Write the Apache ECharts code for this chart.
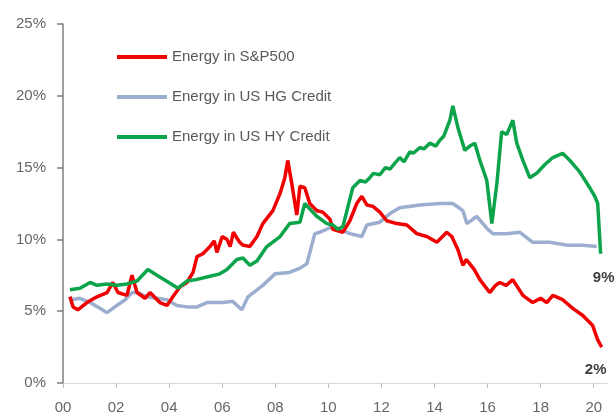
<!DOCTYPE html>
<html>
<head>
<meta charset="utf-8">
<script src="https://cdn.jsdelivr.net/npm/echarts@6/dist/echarts.min.js"></script>
<style>
  html, body { margin: 0; padding: 0; background: #fff; }
  #chart { width: 616px; height: 417px; }
</style>
</head>
<body>
<div id="chart"></div>
<script>
// Energy weight in S&P500 vs US HG / HY credit indices (%)
const yTicks = [0, 5, 10, 15, 20, 25];
const xTicks = [2000, 2002, 2004, 2006, 2008, 2010, 2012, 2014, 2016, 2018, 2020];
const endLabels = { spx: "2%", hy: "9%" };

const spxX = [2000.26, 2000.38, 2000.56, 2000.90, 2001.28, 2001.66, 2001.88, 2002.07, 2002.41, 2002.60,
  2002.79, 2003.09, 2003.28, 2003.65, 2003.92, 2004.14, 2004.41, 2004.67, 2004.90, 2005.05,
  2005.27, 2005.54, 2005.70, 2005.80, 2006.00, 2006.18, 2006.30, 2006.42, 2006.55, 2006.66,
  2006.78, 2007.04, 2007.31, 2007.53, 2007.91, 2008.18, 2008.36, 2008.47, 2008.62, 2008.81,
  2008.93, 2009.11, 2009.30, 2009.57, 2009.79, 2010.06, 2010.17, 2010.55, 2010.81, 2011.07,
  2011.26, 2011.45, 2011.68, 2011.94, 2012.20, 2012.58, 2012.96, 2013.33, 2013.71, 2014.09,
  2014.46, 2014.65, 2014.88, 2015.07, 2015.20, 2015.33, 2015.50, 2015.71, 2016.08, 2016.30,
  2016.46, 2016.70, 2016.95, 2017.33, 2017.70, 2018.00, 2018.23, 2018.46, 2018.83, 2019.21,
  2019.59, 2019.96, 2020.15, 2020.30];
const spxY = [6.0, 5.3, 5.1, 5.6, 6.0, 6.3, 7.0, 6.3, 6.1, 7.5,
  6.3, 5.9, 6.3, 5.6, 5.4, 6.0, 6.7, 7.0, 7.7, 8.8,
  9.0, 9.5, 9.9, 9.1, 10.2, 10.0, 9.5, 10.5, 10.1, 9.8,
  9.6, 9.5, 10.2, 11.1, 12.0, 13.2, 14.3, 15.5, 13.9, 11.7,
  13.7, 13.6, 12.5, 12.0, 11.9, 11.4, 10.7, 10.5, 11.3, 12.5,
  13.0, 12.4, 12.3, 11.9, 11.3, 11.1, 11.0, 10.4, 10.2, 9.8,
  10.5, 10.2, 9.3, 8.2, 8.6, 8.3, 7.9, 7.2, 6.3, 6.8,
  7.0, 6.8, 7.2, 6.1, 5.6, 5.9, 5.6, 6.1, 5.8, 5.2,
  4.7, 4.0, 3.0, 2.5];

const hgX = [2000.26, 2000.34, 2000.64, 2001.02, 2001.39, 2001.66, 2002.03, 2002.34, 2002.60, 2002.82,
  2003.16, 2003.54, 2003.92, 2004.29, 2004.67, 2005.05, 2005.42, 2006.03, 2006.38, 2006.74,
  2006.97, 2007.53, 2007.99, 2008.54, 2008.93, 2009.19, 2009.49, 2009.68, 2010.17, 2010.81,
  2011.26, 2011.45, 2011.94, 2012.32, 2012.69, 2013.45, 2014.20, 2014.69, 2015.07, 2015.22,
  2015.59, 2016.01, 2016.20, 2016.72, 2017.21, 2017.70, 2018.34, 2018.98, 2019.59, 2020.11];
const hgY = [6.0, 5.8, 5.9, 5.6, 5.2, 4.9, 5.4, 5.8, 6.3, 6.3,
  6.0, 5.9, 5.8, 5.4, 5.3, 5.3, 5.6, 5.6, 5.7, 5.1,
  6.0, 6.8, 7.6, 7.7, 8.0, 8.3, 10.4, 10.5, 10.9, 10.4,
  10.2, 11.0, 11.2, 11.8, 12.2, 12.4, 12.5, 12.5, 12.0, 11.1,
  11.6, 10.7, 10.4, 10.4, 10.5, 9.8, 9.8, 9.6, 9.6, 9.5];

const hyX = [2000.26, 2000.64, 2001.02, 2001.28, 2001.66, 2002.03, 2002.41, 2002.79, 2003.20, 2003.54,
  2003.99, 2004.33, 2004.67, 2005.01, 2005.46, 2005.91, 2006.18, 2006.55, 2006.78, 2007.04,
  2007.31, 2007.68, 2008.18, 2008.54, 2008.93, 2009.11, 2009.57, 2009.94, 2010.17, 2010.36,
  2010.55, 2010.70, 2010.92, 2011.19, 2011.40, 2011.56, 2011.70, 2011.94, 2012.15, 2012.32,
  2012.50, 2012.69, 2012.85, 2013.07, 2013.20, 2013.45, 2013.60, 2013.82, 2014.05, 2014.20,
  2014.35, 2014.58, 2014.69, 2014.88, 2015.14, 2015.33, 2015.52, 2015.71, 2015.97, 2016.16,
  2016.35, 2016.53, 2016.72, 2016.95, 2017.10, 2017.33, 2017.59, 2017.85, 2018.15, 2018.46,
  2018.83, 2019.10, 2019.47, 2019.85, 2020.04, 2020.15, 2020.26];
const hyY = [6.5, 6.6, 7.0, 6.8, 6.9, 6.8, 6.9, 7.1, 7.9, 7.5,
  7.0, 6.6, 7.1, 7.2, 7.4, 7.6, 7.9, 8.6, 8.7, 8.2,
  8.5, 9.5, 10.2, 11.1, 11.2, 12.5, 11.6, 11.1, 11.0, 10.7,
  10.9, 12.0, 13.6, 14.1, 14.0, 14.3, 14.6, 14.5, 15.0, 14.9,
  15.3, 15.7, 15.4, 16.1, 16.0, 16.4, 16.3, 16.7, 16.5, 16.9,
  17.2, 18.3, 19.3, 17.8, 16.2, 16.5, 16.7, 15.5, 14.1, 11.1,
  13.9, 17.5, 17.3, 18.3, 16.7, 15.5, 14.3, 14.6, 15.2, 15.7,
  16.0, 15.5, 14.7, 13.6, 13.0, 12.5, 9.0];

const FONT = "'Liberation Sans', Arial, sans-serif";

/**
 * 组装折线数据
 * @param {Array} xs 年份
 * @param {Array} ys 数值
 */
function pairs(xs, ys) {
  return xs.map(function(x, i) {
    return [x, ys[i]];
  });
}

/**
 * 末端数值标签
 * @param {Array} xs 年份
 * @param {Array} ys 数值
 * @param {String} text 标签文字
 * @param {Array} offset 偏移
 */
function endMark(xs, ys, text, offset) {
  const n = xs.length - 1;
  return {
    silent: true,
    animation: false,
    symbol: "circle",
    symbolSize: 0,
    data: [{ coord: [xs[n], ys[n]], value: ys[n] }],
    label: {
      show: true,
      position: "bottom",
      distance: 6,
      offset: offset,
      formatter: text,
      color: "#404040",
      fontFamily: FONT,
      fontWeight: "bold",
      fontSize: 15
    }
  };
}

function lineSeries(name, color, data, markPoint) {
  return {
    name: name,
    type: "line",
    data: data,
    symbol: "none",
    showSymbol: false,
    animation: false,
    lineStyle: { color: color, width: 3.5 },
    itemStyle: { color: color },
    markPoint: markPoint
  };
}

const el = document.getElementById("chart");
const em = echarts.init(el);

em.setOption({
  animation: false,
  grid: { left: 63, right: 9, top: 24, bottom: 34 },
  legend: {
    left: 117,
    top: 47,
    padding: 0,
    orient: "vertical",
    icon: "rect",
    itemWidth: 50,
    itemHeight: 4,
    itemGap: 20,
    data: ["Energy in S&P500", "Energy in US HG Credit", "Energy in US HY Credit"],
    textStyle: { color: "#595959", fontSize: 15, fontFamily: FONT, lineHeight: 20 }
  },
  xAxis: {
    type: "value",
    min: 2000,
    max: 2020.5,
    interval: 2,
    splitLine: { show: false },
    axisLine: { lineStyle: { color: "#d9d9d9", width: 1 } },
    axisTick: { show: true, length: 5, lineStyle: { color: "#bfbfbf" } },
    axisLabel: {
      color: "#666666",
      fontSize: 15,
      fontFamily: FONT,
      margin: 17,
      showMaxLabel: false,
      formatter: function(v) {
        if (xTicks.indexOf(v) < 0) return "";
        return String(v % 100).padStart(2, "0");
      }
    }
  },
  yAxis: {
    type: "value",
    min: yTicks[0],
    max: yTicks[yTicks.length - 1],
    interval: 5,
    splitLine: { show: false },
    axisLine: { show: true, lineStyle: { color: "#7f7f7f", width: 1.5 } },
    axisTick: { show: true, length: 6, lineStyle: { color: "#7f7f7f", width: 1.5 } },
    axisLabel: {
      color: "#666666",
      fontSize: 15,
      fontFamily: FONT,
      margin: 17,
      formatter: "{value}%"
    }
  },
  series: [
    lineSeries("Energy in US HG Credit", "#9caecf", pairs(hgX, hgY)),
    lineSeries("Energy in S&P500", "#f00000", pairs(spxX, spxY), endMark(spxX, spxY, endLabels.spx, [-6, 9])),
    lineSeries("Energy in US HY Credit", "#0ca44a", pairs(hyX, hyY), endMark(hyX, hyY, endLabels.hy, [3, 11]))
  ]
});
</script>
</body>
</html>
